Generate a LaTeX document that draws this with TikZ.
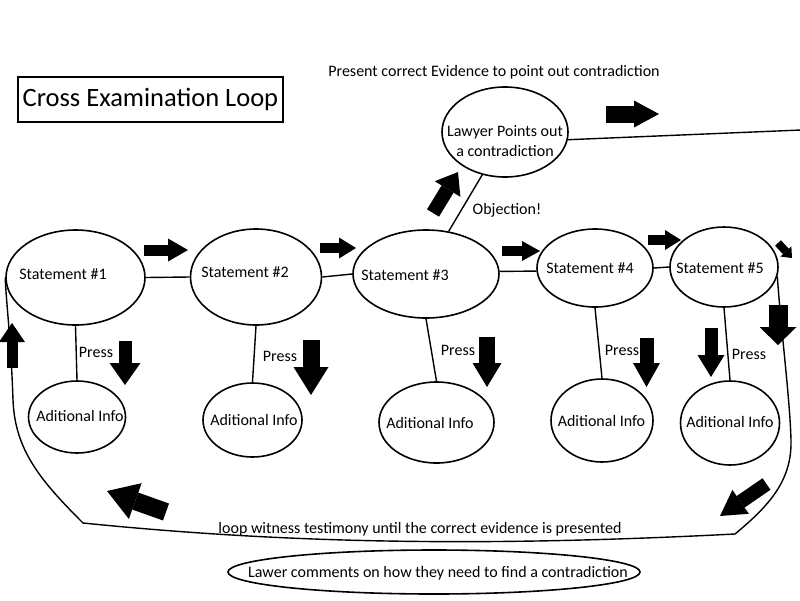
\documentclass[tikz,border=0pt]{standalone}
\usepackage{fontspec}
\setmainfont{Carlito}
\usetikzlibrary{shapes.geometric,arrows.meta}
\begin{document}
\begin{tikzpicture}[x=1pt,y=-1pt,
  el/.style={draw,ellipse,line width=1.6pt,inner sep=0pt},
  conn/.style={line width=1.4pt},
  txt/.style={font=\fontsize{16}{19}\selectfont,inner sep=0pt},
  blk/.style n args={3}{line width=#1,-{Triangle[width=#2,length=#3,line width=0pt]}},
  ]
\useasboundingbox (0,0) rectangle (800,600);

% title
\node[draw,line width=1.5pt,minimum width=265pt,minimum height=45pt,inner sep=0pt,
      font=\fontsize{26.5}{31}\selectfont] (title) at (150.5,99.5) {Cross Examination Loop};

% statements
\node[el,minimum width=139pt,minimum height=95pt] (s1) at (75.5,277.5) {};
\node[el,minimum width=131pt,minimum height=96pt] (s2) at (256,277) {};
\node[el,minimum width=146pt,minimum height=88pt] (s3) at (426,274) {};
\node[el,minimum width=116pt,minimum height=78pt] (s4) at (595,268) {};
\node[el,minimum width=108pt,minimum height=80pt] (s5) at (724,267) {};
\node[txt] (s1t) at (63,274) {Statement \#1};
\node[txt] (s2t) at (245,272) {Statement \#2};
\node[txt] (s3t) at (405,275) {Statement \#3};
\node[txt] (s4t) at (590,268) {Statement \#4};
\node[txt] (s5t) at (720,268) {Statement \#5};

% lawyer
\node[el,minimum width=126pt,minimum height=90pt] (law) at (505,132) {};
\node[txt,align=center,font=\fontsize{16}{19.5}\selectfont] (lawt) at (505,141) {Lawyer Points out\\a contradiction};

% additional info
\node[el,minimum width=97pt,minimum height=72pt] (a1) at (77,417) {};
\node[el,minimum width=99pt,minimum height=74pt] (a2) at (252.5,420) {};
\node[el,minimum width=115pt,minimum height=81pt] (a3) at (436.5,422.5) {};
\node[el,minimum width=102pt,minimum height=83pt] (a4) at (602,420.5) {};
\node[el,minimum width=99pt,minimum height=84pt] (a5) at (730,423) {};
\node[txt] (a1t) at (80,416) {Aditional Info};
\node[txt] (a2t) at (254,420) {Aditional Info};
\node[txt] (a3t) at (430,423) {Aditional Info};
\node[txt] (a4t) at (601.5,421) {Aditional Info};
\node[txt] (a5t) at (730,422) {Aditional Info};

% bottom ellipse
\node[el,minimum width=412pt,minimum height=44pt] (bot) at (434,572) {};
\node[txt] (bott) at (438,573) {Lawer comments on how they need to find a contradiction};

% other texts
\node[txt] (evid) at (494,72) {Present correct Evidence to point out contradiction};
\node[txt] (obj) at (507,210) {Objection!};
\node[txt] (p1) at (96,352) {Press};
\node[txt] (p2) at (280,356) {Press};
\node[txt] (p3) at (458,350) {Press};
\node[txt] (p4) at (622,350) {Press};
\node[txt] (p5) at (749,354) {Press};
\node[txt] (loopt) at (420,529) {loop witness testimony until the correct evidence is presented};

% connectors
\draw[conn] (s1.east) -- (s2.west);
\draw[conn] (s2.east) -- (s3.west);
\draw[conn] (s3.2) -- (s4.183);
\draw[conn] (s4.east) -- (s5.west);
\draw[conn] (s1.south) -- (a1.north);
\draw[conn] (s2.south) -- (a2.north);
\draw[conn] (s3.south) -- (a3.north);
\draw[conn] (s4.south) -- (a4.north);
\draw[conn] (s5.south) -- (a5.north);
\draw[conn] (s3.62) -- (law.242);
\coordinate (rend) at (801,130);
\draw[conn] (law.-7) -- (rend);

% loop
\draw[conn] (s5.-10) .. controls (781,330) and (790,400) .. (791,440)
  .. controls (792,480) and (770,505) .. (735,534)
  .. controls (500,546) and (300,545) .. (83,523)
  .. controls (40,480) and (15,450) .. (13,400)
  .. controls (11,340) and (6,300) .. (s1.west);

% block arrows
\draw[blk={11pt}{23pt}{20pt}] (144,250) -- (188,250);
\draw[blk={10pt}{21pt}{17pt}] (320,248) -- (356,248);
\draw[blk={10pt}{20pt}{18pt}] (502,251) -- (540,251);
\draw[blk={10pt}{20pt}{16pt}] (648,240) -- (681,240);
\draw[blk={8pt}{15pt}{9pt}] (778,243) -- (792,258);
\draw[blk={17pt}{27pt}{25pt}] (606,114) -- (659,114);
\draw[blk={14pt}{30pt}{20pt}] (433,213) -- (458,172);
\draw[blk={13pt}{31pt}{22pt}] (125,341) -- (125,385);
\draw[blk={17pt}{35pt}{28pt}] (311,340) -- (311,395);
\draw[blk={16pt}{29pt}{24pt}] (487,337) -- (487,387);
\draw[blk={14pt}{27pt}{24pt}] (646.5,338) -- (646.5,387);
\draw[blk={13pt}{27pt}{22pt}] (711,328) -- (711,377);
\draw[blk={19pt}{37pt}{18pt}] (778,305) -- (778,345);
\draw[blk={11pt}{26pt}{19pt}] (12,368) -- (12,323);
\draw[blk={18pt}{38pt}{30pt}] (166,512) -- (107,491);
\draw[blk={14pt}{29pt}{25pt}] (766.5,484) -- (720,516);
\end{tikzpicture}
\end{document}
